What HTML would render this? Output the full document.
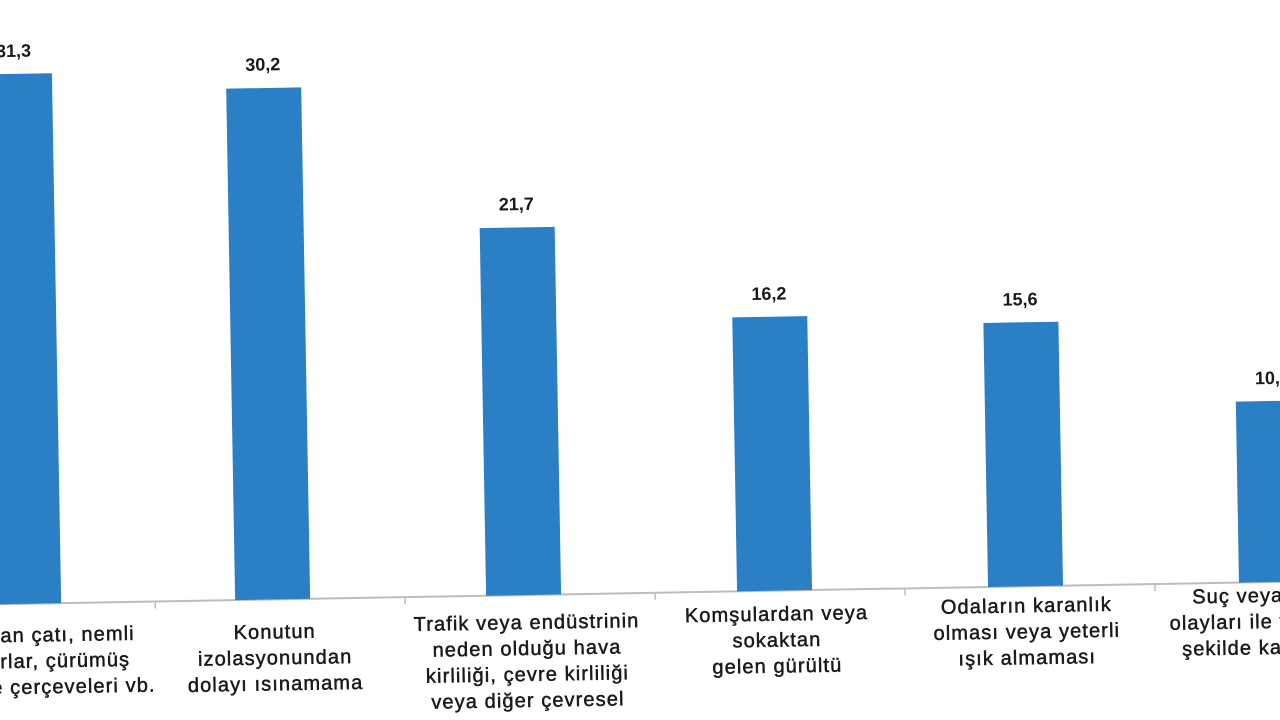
<!DOCTYPE html>
<html><head><meta charset="utf-8"><style>
html,body{margin:0;padding:0;background:#fff;width:1280px;height:720px;overflow:hidden}
svg{display:block}
text{font-family:"Liberation Sans",Arial,sans-serif;fill:#1a1a1a}
.v{font-size:18px;font-weight:bold;text-anchor:middle}
.c{font-size:20px;letter-spacing:1.1px;text-anchor:middle;stroke:#1a1a1a;stroke-width:0.5}
</style></head><body>
<svg width="1280" height="720" viewBox="0 0 1280 720">
<g transform="rotate(-1 640 360)">
<line x1="-20" y1="593" x2="1300" y2="593" stroke="#bdbdbd" stroke-width="2"/>
<g stroke="#bdbdbd" stroke-width="1.5">
<line x1="151" y1="593" x2="151" y2="600"/><line x1="401" y1="593" x2="401" y2="600"/><line x1="651" y1="593" x2="651" y2="600"/><line x1="901" y1="593" x2="901" y2="600"/><line x1="1151" y1="593" x2="1151" y2="600"/>
</g>
<g fill="#2a7fc5">
<rect x="-18" y="63" width="75" height="530"/>
<rect x="231" y="81.5" width="75" height="511.5"/>
<rect x="482" y="225.4" width="75" height="367.6"/>
<rect x="733" y="319" width="75" height="274"/>
<rect x="984" y="329" width="75" height="264"/>
<rect x="1235" y="412" width="75" height="181"/>
</g>
<text class="v" x="19" y="46">31,3</text>
<text class="v" x="268" y="64">30,2</text>
<text class="v" x="519" y="208">21,7</text>
<text class="v" x="770" y="302">16,2</text>
<text class="v" x="1021" y="312">15,6</text>
<text class="v" x="1272" y="395">10,7</text>

<g class="c">
<text x="130" y="631" style="text-anchor:end">Sızdıran çatı, nemli</text>
<text x="125" y="657" style="text-anchor:end">duvarlar, çürümüş</text>
<text x="150" y="683" style="text-anchor:end">pencere çerçeveleri vb.</text>

<text x="270" y="632">Konutun</text>
<text x="270" y="658">izolasyonundan</text>
<text x="270" y="684">dolayı ısınamama</text>

<text x="522" y="627">Trafik veya endüstrinin</text>
<text x="522" y="653">neden olduğu hava</text>
<text x="522" y="679">kirliliği, çevre kirliliği</text>
<text x="522" y="705">veya diğer çevresel</text>

<text x="772" y="623">Komşulardan veya</text>
<text x="772" y="649">sokaktan</text>
<text x="772" y="675">gelen gürültü</text>

<text x="1022" y="619">Odaların karanlık</text>
<text x="1022" y="645">olması veya yeterli</text>
<text x="1022" y="671">ışık almaması</text>

<text x="1188" y="613" style="text-anchor:start">Suç veya şiddet</text>
<text x="1165" y="639" style="text-anchor:start">olayları ile yaşanan</text>
<text x="1177" y="665" style="text-anchor:start">şekilde kamu</text>
</g>
</g>
</svg>
</body></html>
